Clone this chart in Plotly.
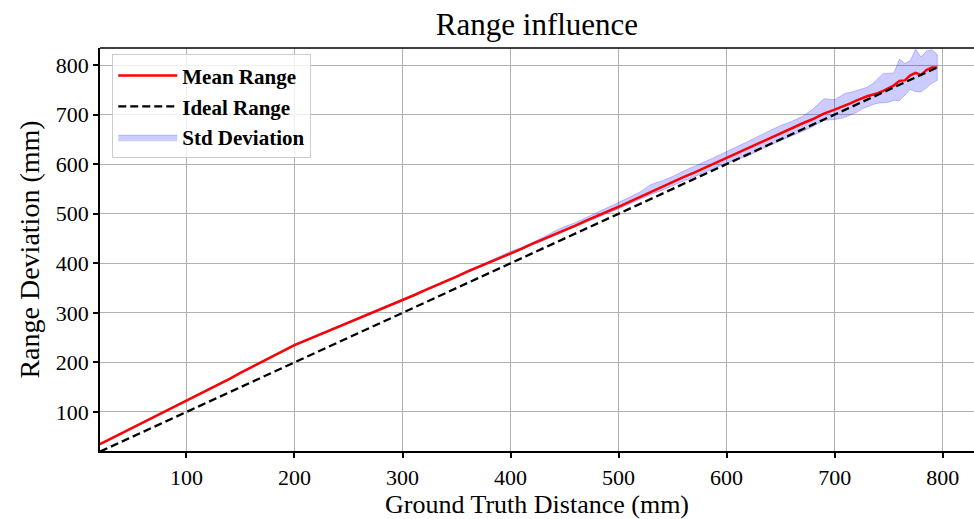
import plotly.graph_objects as go

# Ground-truth distances (mm): 10 mm steps, then 5 mm steps near the far end
distance = list(range(20, 700, 10)) + list(range(700, 800, 5))

# Measured mean range (mm)
mean_range = [
    35, 46, 57, 68, 79, 90, 100, 111, 122, 133,
    145, 156, 167, 179, 190, 202, 213, 224, 235, 244,
    253, 262, 271, 280, 289, 298, 307, 317, 326, 335,
    345, 354, 364, 373, 383, 392, 401, 411, 420, 429,
    439, 448, 458, 467, 476, 486, 495, 505, 514, 524,
    534, 545, 554, 564, 574, 583, 593, 603, 613, 623,
    632, 643, 653, 663, 672, 682, 691, 702,
    710, 714, 719, 723, 728, 733, 737, 740, 743, 748,
    753, 759, 768, 769, 779, 784, 780, 790, 795, 795,
]

# Spread of the deviation band above / below the mean (mm)
spread_above = [
    1.5, 1.5, 1.5, 1.5, 1.5, 1.5, 1.5, 1.5, 1.5, 1.5,
    1.5, 1.5, 1.5, 1.5, 1.5, 1.5, 2, 2, 2, 2,
    2, 2, 2, 2, 2, 2, 2, 2, 2, 2,
    2, 2, 2, 2, 2.5, 2.5, 2.5, 3, 4, 3,
    3, 4, 6, 7, 6, 6, 7, 8, 9, 9,
    10, 14, 12, 11, 12, 12, 12, 12, 12, 13,
    14, 14, 15, 15, 14, 14, 20, 30,
    20, 22, 24, 22, 20, 19, 18, 22, 30, 35,
    30, 25, 44, 34, 30, 48, 36, 38, 36, 26,
]
spread_below = [
    1.5, 1.5, 1.5, 1.5, 1.5, 1.5, 1.5, 1.5, 1.5, 1.5,
    1.5, 1.5, 1.5, 1.5, 1.5, 1.5, 2, 2, 2, 2,
    2, 2, 2, 2, 2, 2, 2, 2, 2, 2,
    2, 2, 2, 2, 2, 2, 2, 2, 2, 2,
    2, 3, 3, 3, 3, 3, 3, 4, 4, 4,
    5, 6, 7, 8, 8, 9, 9, 10, 11, 13,
    15, 15, 15, 15, 15, 16, 15, 14,
    20, 22, 24, 24, 24, 22, 21, 20, 20, 24,
    28, 30, 40, 30, 28, 38, 34, 36, 32, 26,
]

x_ticks = [100, 200, 300, 400, 500, 600, 700, 800]
y_ticks = [100, 200, 300, 400, 500, 600, 700, 800]

band_high = [m + a for m, a in zip(mean_range, spread_above)]
band_low = [m - b for m, b in zip(mean_range, spread_below)]

FONT = "Liberation Serif"

fig = go.Figure()

# band drawn first so the lines sit on top; legend order set by legendrank
fig.add_trace(go.Scatter(
    x=distance + distance[::-1], y=band_high + band_low[::-1],
    mode="lines", fill="toself", name="Std Deviation", legendrank=3,
    legendgroup="c",
    fillcolor="rgba(0,0,255,0.2)",
    line=dict(color="rgba(0,0,255,0.22)", width=1),
))
fig.add_trace(go.Scatter(
    x=distance, y=mean_range, mode="lines", name="Mean Range",
    legendrank=1, legendgroup="a",
    line=dict(color="#ff0000", width=2.5),
))
fig.add_trace(go.Scatter(
    x=[distance[0], distance[-1]], y=[distance[0], distance[-1]],
    mode="lines", name="Ideal Range", legendrank=2, legendgroup="b",
    line=dict(color="black", width=2.3, dash="8px,4px"),
))

axis_common = dict(
    showline=True, linecolor="black", linewidth=1.5,
    ticks="outside", ticklen=5, tickwidth=1.5, tickcolor="black",
    showgrid=True, gridcolor="#b0b0b0", gridwidth=1.3,
    zeroline=False,
    tickfont=dict(family=FONT, size=22, color="black"),
)

fig.update_xaxes(
    range=[20, 829], tickvals=x_ticks, ticklabelstandoff=1,
    title=dict(text="Ground Truth Distance (mm)",
               font=dict(family=FONT, size=26, color="black"), standoff=7),
    **axis_common,
)
fig.update_yaxes(
    range=[21.3, 834.3], tickvals=y_ticks,
    title=dict(text="Range Deviation (mm)",
               font=dict(family=FONT, size=28, color="black"), standoff=8),
    **axis_common,
)

# top frame line of the axes box
fig.add_shape(type="line", xref="paper", yref="paper", x0=0, x1=1, y0=1, y1=1,
              line=dict(color="black", width=1.5))

fig.update_layout(
    width=974, height=519,
    margin=dict(l=100, r=0, t=48, b=68),
    paper_bgcolor="white", plot_bgcolor="white",
    title=dict(text="Range influence", x=0.5, xref="paper",
               y=1 - 24 / 519, yanchor="middle", xanchor="center",
               font=dict(family=FONT, size=31, color="black")),
    legend=dict(
        x=0.014, y=0.984, xanchor="left", yanchor="top",
        bgcolor="rgba(255,255,255,0.8)", bordercolor="#cccccc", borderwidth=1,
        font=dict(family=FONT, size=21, color="black", weight="bold"),
        tracegroupgap=0.5, itemwidth=59,
    ),
    showlegend=True,
)

fig.write_html("out.html")
